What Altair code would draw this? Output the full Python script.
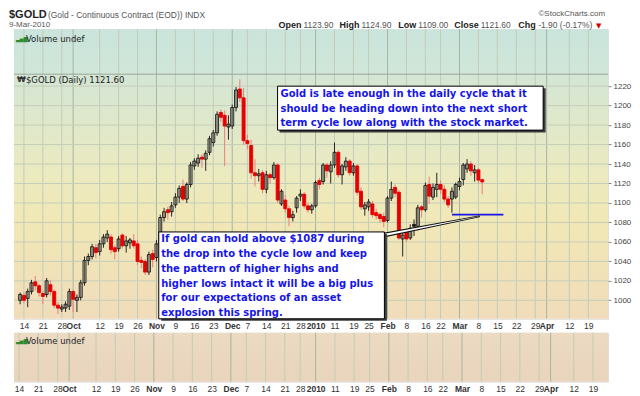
import altair as alt
import pandas as pd

# ---------------- data ----------------
# trading-day index: 0 = 14 Sep 2009; first candle (11 Sep 2009) = -1, last candle (9 Mar 2010) = 121
opens = [1000, 1005, 1002, 1009, 1019, 1015, 1007, 1006, 1016, 1009, 995, 991, 992, 994,
         1009, 1000, 1003, 1018, 1041, 1045, 1054, 1050, 1058, 1064, 1065, 1054, 1053, 1067,
         1056, 1059, 1061, 1058, 1041, 1040, 1029, 1048, 1044, 1057, 1085, 1093, 1091, 1098,
         1106, 1117, 1104, 1119, 1138, 1141, 1147, 1145, 1152, 1162, 1172, 1193, 1190, 1178,
         1179, 1198, 1217, 1208, 1164, 1159, 1131, 1128, 1131, 1114, 1129, 1126, 1139, 1099,
         1103, 1094, 1085, 1095, 1107, 1109, 1097, 1093, 1097, 1123, 1122, 1139, 1132, 1139,
         1152, 1129, 1137, 1143, 1131, 1138, 1112, 1094, 1096, 1099, 1090, 1088, 1086, 1082,
         1105, 1116, 1111, 1063, 1070, 1064, 1078, 1076, 1096, 1093, 1119, 1106, 1114, 1119,
         1114, 1104, 1104, 1106, 1117, 1124, 1135, 1140, 1131, 1134, 1123.9]
highs = [1008, 1008, 1012, 1021, 1025, 1017, 1010, 1023, 1021, 1011, 998, 996, 999, 1012,
         1011, 1006, 1021, 1045, 1048, 1058, 1058, 1062, 1068, 1072, 1068, 1057, 1066, 1069,
         1066, 1064, 1068, 1062, 1045, 1042, 1050, 1052, 1062, 1088, 1095, 1096, 1101, 1110,
         1118, 1124, 1121, 1142, 1146, 1150, 1150, 1154, 1169, 1175, 1194, 1196, 1195, 1190,
         1201, 1219, 1227, 1218, 1170, 1165, 1145, 1135, 1134, 1133, 1131, 1142, 1141, 1114,
         1108, 1097, 1092, 1107, 1114, 1111, 1100, 1099, 1123, 1126, 1141, 1141, 1143, 1162,
         1154, 1140, 1147, 1145, 1141, 1140, 1116, 1101, 1104, 1102, 1094, 1090, 1090, 1107,
         1122, 1119, 1113, 1070, 1073, 1078, 1083, 1098, 1098, 1121, 1127, 1120, 1131, 1123,
         1118, 1107, 1116, 1121, 1126, 1141, 1145, 1143, 1139, 1136, 1124.9]
lows = [996, 997, 993, 1006, 1010, 1004, 996, 1003, 1005, 992, 986, 988, 988, 990,
        988, 988, 1000, 1015, 1036, 1042, 1043, 1046, 1054, 1060, 1048, 1042, 1050, 1053,
        1049, 1053, 1053, 1036, 1033, 1026, 1026, 1034, 1040, 1050, 1081, 1083, 1086, 1095,
        1100, 1102, 1100, 1116, 1134, 1137, 1136, 1133, 1149, 1158, 1169, 1183, 1138, 1165,
        1176, 1194, 1204, 1160, 1155, 1125, 1117, 1122, 1110, 1110, 1120, 1124, 1100, 1097,
        1090, 1076, 1081, 1090, 1102, 1094, 1090, 1089, 1095, 1114, 1119, 1126, 1120, 1136,
        1126, 1119, 1133, 1128, 1128, 1108, 1093, 1087, 1092, 1085, 1083, 1080, 1075, 1080,
        1102, 1106, 1062, 1045, 1060, 1062, 1066, 1072, 1085, 1091, 1099, 1103, 1106, 1109,
        1101, 1095, 1090, 1104, 1113, 1118, 1131, 1128, 1122, 1120, 1109]
closes = [1006, 1000, 1009, 1018, 1015, 1008, 1004, 1020, 1009, 995, 992, 993, 996, 1009,
          1001, 1003, 1018, 1041, 1045, 1055, 1049, 1058, 1065, 1068, 1052, 1050, 1063, 1056,
          1061, 1062, 1056, 1040, 1039, 1029, 1047, 1042, 1058, 1085, 1091, 1090, 1097, 1106,
          1115, 1104, 1119, 1139, 1143, 1146, 1145, 1151, 1166, 1172, 1191, 1188, 1179, 1181,
          1198, 1216, 1208, 1164, 1161, 1131, 1128, 1130, 1114, 1129, 1126, 1139, 1103, 1112,
          1094, 1085, 1088, 1105, 1109, 1097, 1093, 1097, 1121, 1119, 1139, 1133, 1139, 1152,
          1129, 1138, 1143, 1131, 1138, 1111, 1096, 1098, 1101, 1088, 1087, 1084, 1081, 1105,
          1114, 1110, 1064, 1067, 1063, 1074, 1076, 1095, 1093, 1118, 1107, 1116, 1119, 1114,
          1104, 1098, 1112, 1119, 1122, 1139, 1140, 1133, 1134, 1123.5, 1121.6]
day = list(range(-1, -1 + len(opens)))

tick_idx = [0, 5, 10, 13, 20, 25, 30, 35, 40, 45, 50, 55, 59, 64, 69, 73, 77, 82, 87, 91,
            96, 101, 106, 110, 115, 120, 125, 130, 135, 138, 144, 149]
tick_text = ["14", "21", "28", "Oct", "12", "19", "26", "Nov", "9", "16", "23", "Dec", "7",
             "14", "21", "28", "2010", "11", "19", "25", "Feb", "8", "16", "22", "Mar", "8",
             "15", "22", "29", "Apr", "12", "19"]
month_idx = [13, 35, 55, 77, 96, 115, 138]
price_ticks = [1000, 1020, 1040, 1060, 1080, 1100, 1120, 1140, 1160, 1180, 1200, 1220]

support_price = 1088
support_from = [113]
support_to = [126.6]
pointer_day = [94.6, 120.2]
pointer_price = [1066.7, 1086.2]

note1 = ["Gold is late enough in the daily cycle that it",
         "should be heading down into the next short",
         "term cycle low along with the stock market."]
note2 = ["If gold can hold above $1087 during",
         "the drop into the cycle low and keep",
         "the pattern of higher highs and",
         "higher lows intact it will be a big plus",
         "for our expectations of an asset",
         "explosion this spring."]

# ---------------- frames ----------------
prev = [opens[0]] + closes[:-1]
kinds = []
for o, c, p in zip(opens, closes, prev):
    hollow = c >= o
    red = c < p
    kinds.append(("h" if hollow else "f") + ("r" if red else "b"))
cdf = pd.DataFrame({"d": day, "o": opens, "h": highs, "l": lows, "c": closes, "kind": kinds})

gdf = pd.DataFrame({"idx": tick_idx})
gdf["month"] = gdf["idx"].isin(month_idx)
week_df = gdf[~gdf["month"]]
month_df = gdf[gdf["month"]]
pdf = pd.DataFrame({"p": price_ticks})
sup_df = pd.DataFrame({"x0": support_from, "x1": support_to, "p": [support_price]})
ptr_df = pd.DataFrame({"d": pointer_day, "p": pointer_price, "wo": [4.6, 1.6], "wi": [2.4, 0.2]})
one = pd.DataFrame({"k": [0]})

# ---------------- geometry / styles ----------------
W, HA, HB, TOP = 595, 290, 49, 45
xs = alt.Scale(domain=[-1.3, 152.9], nice=False, zero=False)
ys = alt.Scale(domain=[981.0, 1278.4], nice=False, zero=False)

lab_expr = ("[" + ",".join("'%s'" % t for t in tick_text) + "][indexof(["
            + ",".join(str(i) for i in tick_idx) + "], datum.value)]")
xaxis = alt.Axis(values=tick_idx, labelExpr=lab_expr,
                 labelFontWeight={"condition": {"test": "indexof(%s, datum.value) >= 0" % str(month_idx),
                                                "value": "bold"}, "value": "normal"},
                 grid=False, domain=False, ticks=False, labelPadding=3,
                 labelFont="Liberation Sans", labelFontSize=8.5, labelColor="#333",
                 labelOverlap=False, labelFlush=False, labelBound=False, title=None)
yaxis = alt.Axis(orient="right", values=price_ticks, format="d", grid=False, domain=False,
                 tickSize=3, tickColor="#888", labelFont="Liberation Sans", labelFontSize=8,
                 labelColor="#444", labelPadding=2, title=None)

BLUE = "#1515e8"
WEEK_C, MONTH_C, HGRID_C, BORDER = "#c3ccb8", "#a7b4a1", "#c6cdba", "#97a596"


def grad(stops):
    return {"gradient": "linear", "x1": 0, "y1": 0, "x2": 0, "y2": 1,
            "stops": [{"offset": o, "color": c} for o, c in stops]}


def rect(x1, x2, y1, y2, **kw):
    return alt.Chart(one).mark_rect(**kw).encode(
        x=alt.value(x1), x2=alt.value(x2), y=alt.value(y1), y2=alt.value(y2))


def txt(s, x, y, size=9, weight="normal", color="#222", align="left", baseline="middle",
        font="Liberation Sans", **kw):
    return alt.Chart(one).mark_text(align=align, baseline=baseline, font=font, fontSize=size,
                                    fontWeight=weight, color=color, **kw).encode(
        x=alt.value(x), y=alt.value(y), text=alt.value(s))


def vgrid(h):
    return [
        alt.Chart(week_df).mark_rule(color=WEEK_C, strokeWidth=1).encode(
            x=alt.X("idx:Q", scale=xs, axis=xaxis), y=alt.value(0), y2=alt.value(h)),
        alt.Chart(month_df).mark_rule(color=MONTH_C, strokeWidth=1).encode(
            x=alt.X("idx:Q", scale=xs, axis=xaxis), y=alt.value(0), y2=alt.value(h)),
    ]


kind_dom = ["hb", "hr", "fr", "fb"]
wicks = alt.Chart(cdf).mark_rule(strokeWidth=1).encode(
    x=alt.X("d:Q", scale=xs, axis=xaxis),
    y=alt.Y("l:Q", scale=ys, axis=yaxis), y2="h:Q",
    color=alt.Color("kind:N", scale=alt.Scale(domain=kind_dom,
                    range=["#262626", "#ef7b7b", "#ef7b7b", "#262626"]), legend=None))
bodies = alt.Chart(cdf).mark_bar(size=3, strokeWidth=0.9).encode(
    x=alt.X("d:Q", scale=xs, axis=xaxis),
    y=alt.Y("o:Q", scale=ys, axis=yaxis), y2="c:Q",
    fill=alt.Fill("kind:N", scale=alt.Scale(domain=kind_dom,
                  range=["rgba(150,148,135,0.45)", "rgba(150,148,135,0.45)", "#e60000", "#1a1a1a"]),
                  legend=None),
    stroke=alt.Stroke("kind:N", scale=alt.Scale(domain=kind_dom,
                      range=["#1a1a1a", "#e60000", "#e60000", "#1a1a1a"]), legend=None))

hgrid = alt.Chart(pdf).mark_rule(color=HGRID_C, strokeWidth=1).encode(
    y=alt.Y("p:Q", scale=ys, axis=yaxis), x=alt.value(0), x2=alt.value(W))
sep = alt.Chart(one).mark_rule(color=BORDER, strokeWidth=1).encode(
    x=alt.value(0), x2=alt.value(W), y=alt.value(TOP))

support = alt.Chart(sup_df).mark_rule(color=BLUE, strokeWidth=1.6).encode(
    x=alt.X("x0:Q", scale=xs, axis=xaxis), x2="x1:Q", y=alt.Y("p:Q", scale=ys, axis=yaxis))
ptr_out = alt.Chart(ptr_df).mark_trail(color="#111").encode(
    x=alt.X("d:Q", scale=xs, axis=xaxis), y=alt.Y("p:Q", scale=ys, axis=yaxis),
    size=alt.Size("wo:Q", scale=None, legend=None))
ptr_in = alt.Chart(ptr_df).mark_trail(color="white").encode(
    x=alt.X("d:Q", scale=xs, axis=xaxis), y=alt.Y("p:Q", scale=ys, axis=yaxis),
    size=alt.Size("wi:Q", scale=None, legend=None))

L2 = -8.5  # second header line (top of text box)
layersA = [
    rect(0, W, 0, TOP, fill=grad([(0, "#cae4dc"), (1, "#d0e6d8")]), strokeWidth=0),
    rect(0, W, TOP, HA, fill=grad([(0, "#d4e6d5"), (0.4, "#ebeac0"), (0.6, "#f1e8b6"),
                                    (1, "#f0dcba")]), strokeWidth=0),
] + vgrid(HA) + [
    hgrid, sep, wicks, bodies, support, ptr_out, ptr_in,
    rect(266, 532.5, 59, 103.5, fill="#3a3a3a"),
    rect(264, 530, 57, 101, fill="white", stroke="black", strokeWidth=1),
    rect(147.5, 373.5, 205, 292, fill="#3a3a3a"),
    rect(145, 371, 203, 290, fill="white", stroke="black", strokeWidth=1),
    txt(note1, 267, 60, size=10, weight="bold", color=BLUE, baseline="top",
        font="DejaVu Sans", lineHeight=14.5),
    txt(note2, 147.5, 205.3, size=10, weight="bold", color=BLUE, baseline="top",
        font="DejaVu Sans", lineHeight=14.8),
    # panel labels
    txt("\u2583\u2585\u2587", 2, 9.5, size=5, color="#2e8b2e", font="DejaVu Sans"),
    txt("Volume undef", 12, 9.5, size=8.5, color="#222", font="DejaVu Sans"),
    txt("\u20a9", 3, 51, size=8, weight="bold", color="#333", font="DejaVu Sans"),
    txt("$GOLD (Daily) 1121.60", 12, 51, size=8.5, color="#222", font="DejaVu Sans"),
    # header
    txt("$GOLD", -5, -20.5, size=11, weight="bold", color="#222", baseline="top"),
    txt("(Gold - Continuous Contract (EOD)) INDX", 34, -18.5, size=8.5, color="#555", baseline="top"),
    txt("\u00a9StockCharts.com", 592, -19.5, size=8, color="#555", baseline="top", align="right"),
    txt("9-Mar-2010", -5, L2, size=8, color="#555", baseline="top"),
    txt("Open", 265, L2, size=9, weight="bold", color="#222", baseline="top"),
    txt("1123.90", 290, L2, size=8.5, color="#555", baseline="top"),
    txt("High", 326, L2, size=9, weight="bold", color="#222", baseline="top"),
    txt("1124.90", 348, L2, size=8.5, color="#555", baseline="top"),
    txt("Low", 385, L2, size=9, weight="bold", color="#222", baseline="top"),
    txt("1109.00", 405, L2, size=8.5, color="#555", baseline="top"),
    txt("Close", 441, L2, size=9, weight="bold", color="#222", baseline="top"),
    txt("1121.60", 467.5, L2, size=8.5, color="#555", baseline="top"),
    txt("Chg", 505, L2, size=9, weight="bold", color="#222", baseline="top"),
    txt("-1.90 (-0.17%)", 525, L2, size=8.5, color="#555", baseline="top"),
    txt("\u25bc", 583, L2 + 1.5, size=7, color="#d00000", baseline="top", font="DejaVu Sans"),
]
chartA = alt.layer(*layersA).properties(width=W, height=HA)

layersB = [
    rect(0, W, 0, HB, fill=grad([(0, "#ecdac3"), (1, "#e9d4bc")]), strokeWidth=0),
] + vgrid(HB) + [
    txt("\u2583\u2585\u2587", 2, 8, size=5, color="#2e8b2e", font="DejaVu Sans"),
    txt("Volume undef", 12, 8, size=8.5, color="#222", font="DejaVu Sans"),
]
chartB = alt.layer(*layersB).properties(width=W, height=HB)

chart = alt.vconcat(chartA, chartB, spacing=14, bounds="flush").properties(
    padding={"left": 0, "top": 0, "right": 0, "bottom": 0}
).configure_view(stroke=BORDER, strokeWidth=1).configure(background="white")

chart.save("out.html", embed_options={"renderer": "svg", "actions": False})
